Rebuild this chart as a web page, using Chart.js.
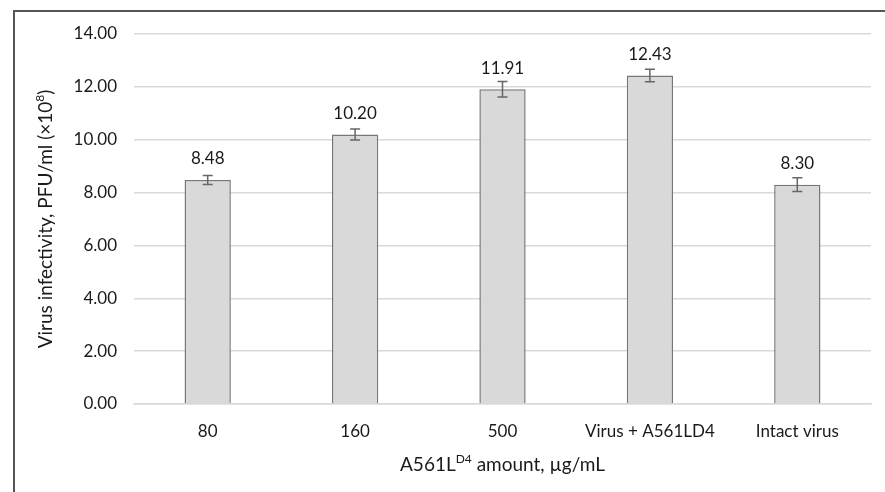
<!DOCTYPE html>
<html>
<head>
<meta charset="utf-8">
<script src="https://cdn.jsdelivr.net/npm/chart.js@4/dist/chart.umd.min.js"></script>
<style>
  html, body { margin: 0; padding: 0; background: #fff; }
  #wrap { position: relative; width: 885px; height: 492px; }
  #frame { position: absolute; left: 13px; top: 10px; right: -5px; bottom: -5px;
           border-left: 2px solid #555; border-top: 2px solid #555; pointer-events: none; }
  canvas { position: absolute; left: 0; top: 0; }
</style>
</head>
<body>
<div id="wrap">
  <canvas id="c" width="885" height="492"></canvas>
  <div id="frame"></div>
</div>
<script>
const categories = ["80", "160", "500", "Virus + A561LD4", "Intact virus"];
const values = [8.48, 10.20, 11.91, 12.43, 8.30];
const errors = [0.17, 0.21, 0.29, 0.24, 0.26];
const yTicks = [0, 2, 4, 6, 8, 10, 12, 14];
// axis titles as [text, superscript?] runs
const yTitleRuns = [["Virus infectivity, PFU/ml (×10", false], ["8", true], [")", false]];
const xTitleRuns = [["A561L", false], ["D4", true], [" amount, µg/mL", false]];

const FONT = "Lato, 'Noto Sans', sans-serif";
const TITLE_SIZE = 19;
const TICK_SIZE = 17;

function drawRuns(ctx, runs, cx, cy) {
  const big = TITLE_SIZE + "px " + FONT;
  const small = Math.round(TITLE_SIZE * 0.62) + "px " + FONT;
  let total = 0;
  runs.forEach(([t, sup]) => { ctx.font = sup ? small : big; total += ctx.measureText(t).width; });
  let x = cx - total / 2;
  ctx.textAlign = 'left';
  ctx.textBaseline = 'alphabetic';
  const base = cy + TITLE_SIZE * 0.35;
  runs.forEach(([t, sup]) => {
    ctx.font = sup ? small : big;
    ctx.fillText(t, x, sup ? base - TITLE_SIZE * 0.42 : base);
    x += ctx.measureText(t).width;
  });
}

const annotPlugin = {
  id: 'annot',
  afterDatasetsDraw(chart) {
    const ctx = chart.ctx;
    const meta = chart.getDatasetMeta(0);
    const ys = chart.scales.y;
    const area = chart.chartArea;
    ctx.save();
    // error bars
    ctx.strokeStyle = '#666';
    ctx.lineWidth = 1.5;
    meta.data.forEach((bar, i) => {
      const v = values[i], e = errors[i];
      const yt = ys.getPixelForValue(v + e);
      const yb = ys.getPixelForValue(v - e);
      const x = bar.x;
      ctx.beginPath();
      ctx.moveTo(x, yt); ctx.lineTo(x, yb);
      ctx.moveTo(x - 5, yt); ctx.lineTo(x + 5, yt);
      ctx.moveTo(x - 5, yb); ctx.lineTo(x + 5, yb);
      ctx.stroke();
    });
    // data labels
    ctx.fillStyle = '#1a1a1a';
    ctx.font = TICK_SIZE + "px " + FONT;
    ctx.textAlign = 'center';
    ctx.textBaseline = 'middle';
    meta.data.forEach((bar, i) => {
      const y = ys.getPixelForValue(values[i]);
      ctx.fillText(values[i].toFixed(2), bar.x, y - 21);
    });
    // axis titles
    drawRuns(ctx, xTitleRuns, (area.left + area.right) / 2, 464);
    ctx.save();
    ctx.translate(45, (area.top + area.bottom) / 2);
    ctx.rotate(-Math.PI / 2);
    drawRuns(ctx, yTitleRuns, 0, 0);
    ctx.restore();
    ctx.restore();
  }
};

new Chart(document.getElementById('c'), {
  type: 'bar',
  data: {
    labels: categories,
    datasets: [{
      data: values,
      backgroundColor: '#d9d9d9',
      borderColor: '#777777',
      borderWidth: 1.5,
      borderSkipped: 'bottom',
      categoryPercentage: 1.0,
      barPercentage: 0.314
    }]
  },
  options: {
    responsive: false,
    animation: false,
    devicePixelRatio: 1,
    layout: { padding: { top: 34, right: 14, bottom: 18, left: 20 } },
    plugins: { legend: { display: false }, tooltip: { enabled: false } },
    scales: {
      x: {
        afterFit(scale) { scale.height = 70; },
        grid: { display: false, drawTicks: false },
        border: { display: true, color: '#d9d9d9', width: 1.5 },
        ticks: { color: '#1a1a1a', font: { family: FONT, size: TICK_SIZE }, padding: 17, maxRotation: 0 },
        title: { display: false }
      },
      y: {
        min: 0, max: 14,
        afterBuildTicks(scale) { scale.ticks = yTicks.map(v => ({ value: v })); },
        afterFit(scale) { scale.width = 114; },
        grid: { color: '#d9d9d9', lineWidth: 1.5, drawTicks: false },
        border: { display: false },
        ticks: { color: '#1a1a1a', font: { family: FONT, size: TICK_SIZE }, padding: 17,
                 callback: v => Number(v).toFixed(2) },
        title: { display: false }
      }
    }
  },
  plugins: [annotPlugin]
});
</script>
</body>
</html>
